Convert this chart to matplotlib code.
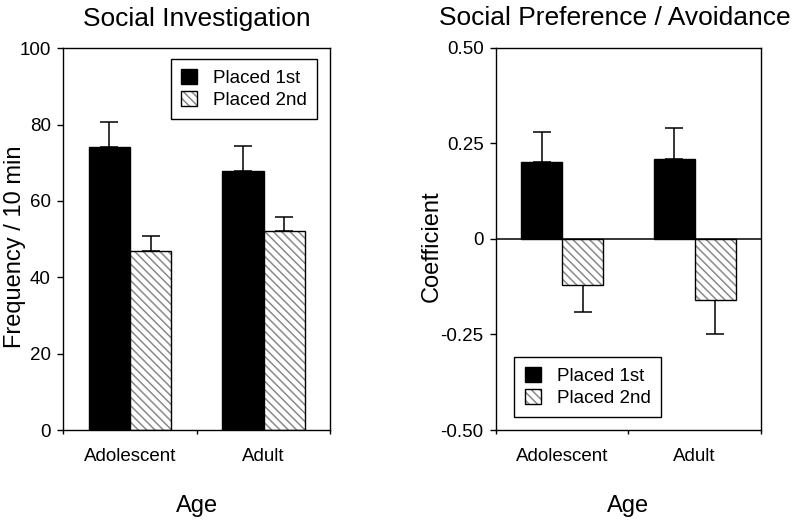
import matplotlib.pyplot as plt
from matplotlib.patches import Patch
from matplotlib.legend_handler import HandlerTuple
import numpy as np

plt.rcParams['font.family'] = ['Liberation Sans', 'DejaVu Sans']
plt.rcParams['hatch.linewidth'] = 1.1

# data
ages = ["Adolescent", "Adult"]
series = ["Placed 1st", "Placed 2nd"]

inv_first = [74.2, 67.9]
inv_first_err = [6.4, 6.5]
inv_second = [47.0, 52.2]
inv_second_err = [3.8, 3.5]

pref_first = [0.20, 0.21]
pref_first_err = [0.08, 0.08]
pref_second = [-0.12, -0.16]
pref_second_err = [0.07, 0.09]

inv_ticks = [0, 20, 40, 60, 80, 100]
inv_ticklabels = ["0", "20", "40", "60", "80", "100"]
pref_ticks = [-0.5, -0.25, 0, 0.25, 0.5]
pref_ticklabels = ["-0.50", "-0.25", "0", "0.25", "0.50"]

HATCH = '\\\\\\\\'
W = 0.31


def draw_panel(ax, first, first_err, second, second_err):
    x = np.arange(len(ages)) + 0.5
    ax.bar(x - W / 2, first, W, color='black', edgecolor='black', lw=1, zorder=2)
    ax.bar(x + W / 2, second, W, color='white', edgecolor='#8a8a8a', hatch=HATCH, lw=0, zorder=2)
    ax.bar(x + W / 2, second, W, fill=False, edgecolor='black', lw=1, zorder=3)
    # one-sided error bars
    for xs, vals, errs in [(x - W / 2, first, first_err), (x + W / 2, second, second_err)]:
        for xi, v, e in zip(xs, vals, errs):
            lo = [[0], [e]] if v >= 0 else [[e], [0]]
            ax.errorbar([xi], [v], yerr=lo, fmt='none', ecolor='black',
                        elinewidth=1.1, capsize=6.8, capthick=1.1, zorder=1)
    ax.set_xlim(0, 2)
    ax.set_xticks([0, 1, 2])
    ax.set_xticklabels([])
    ax.set_xticks(x, ages, minor=True)
    ax.tick_params(axis='x', which='major', direction='out', length=3, width=1)
    ax.tick_params(axis='x', which='minor', length=0, pad=13, labelsize=13.5)
    ax.tick_params(axis='y', direction='out', length=4, width=1, pad=5, labelsize=13.5)
    for s in ax.spines.values():
        s.set_linewidth(1)
    ax.set_xlabel("Age", fontsize=17)
    ax.xaxis.set_label_coords(0.5, -0.17)


def make_legend(ax, loc):
    h1 = Patch(facecolor='black', edgecolor='black')
    h2 = (Patch(facecolor='white', edgecolor='#8a8a8a', hatch=HATCH, lw=0),
          Patch(fill=False, edgecolor='black', lw=1))
    leg = ax.legend([h1, h2], series, loc=loc, fontsize=13.5, fancybox=False,
                    edgecolor='black', framealpha=1, handlelength=0.85, handleheight=0.85,
                    handletextpad=0.85, borderpad=0.55, labelspacing=0.2,
                    handler_map={tuple: HandlerTuple(ndivide=1)})
    leg.get_frame().set_linewidth(1)
    return leg


fig = plt.figure(figsize=(8, 5.29), dpi=100)
ax1 = fig.add_axes([0.079, 0.187, 0.334, 0.722])
ax2 = fig.add_axes([0.62, 0.187, 0.331, 0.723])

draw_panel(ax1, inv_first, inv_first_err, inv_second, inv_second_err)
ax1.set_ylim(0, 100)
ax1.set_yticks(inv_ticks, inv_ticklabels)
ax1.set_ylabel("Frequency / 10 min", fontsize=17)
ax1.yaxis.set_label_coords(-0.14, 0.48)
ax1.set_title("Social Investigation", fontsize=19, pad=16)
leg1 = make_legend(ax1, 'upper right')
leg1.set_bbox_to_anchor((0.985, 0.997), transform=ax1.transAxes)

draw_panel(ax2, pref_first, pref_first_err, pref_second, pref_second_err)
ax2.axhline(0, color='black', lw=1.1, zorder=4)
ax2.set_ylim(-0.5, 0.5)
ax2.set_yticks(pref_ticks, pref_ticklabels)
ax2.set_ylabel("Coefficient", fontsize=17)
ax2.yaxis.set_label_coords(-0.20, 0.48)
fig.text(615 / 800, 1 - 18 / 529, "Social Preference / Avoidance", fontsize=19,
         ha='center', va='center')
leg2 = make_legend(ax2, 'lower left')
leg2.set_bbox_to_anchor((0.034, 0.01), transform=ax2.transAxes)

fig.savefig("out.png", dpi=100)
